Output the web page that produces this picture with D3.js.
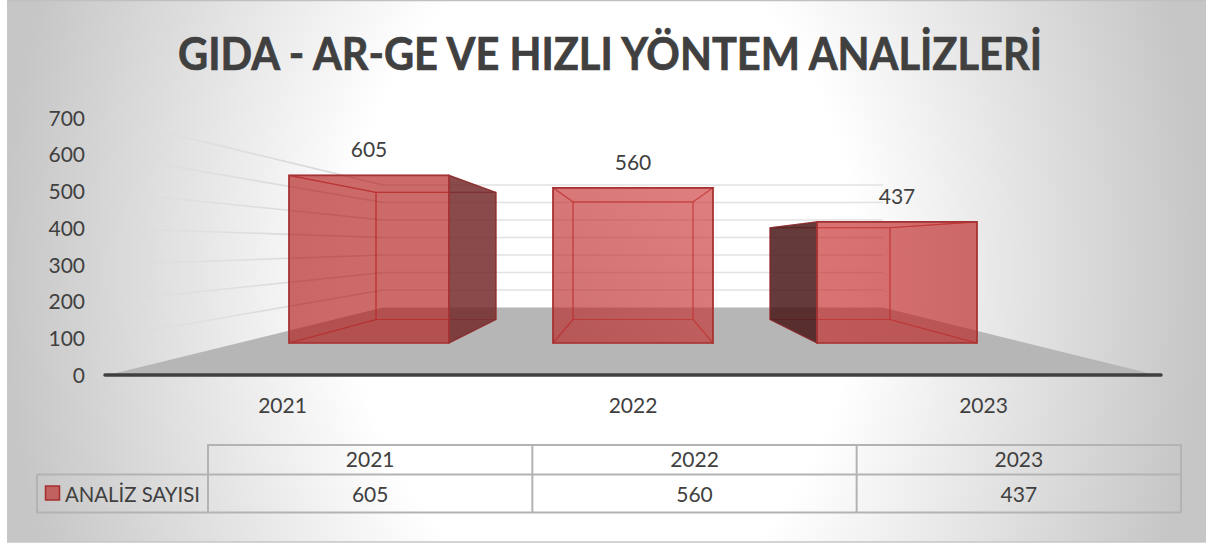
<!DOCTYPE html>
<html>
  <head>
    <meta charset="utf-8" />
    <title>Gida analizleri</title>
    <script src="https://d3js.org/d3.v7.min.js"></script>
    <style>
      html, body { margin: 0; padding: 0; background: #fff; }
      text { font-family: Lato, "Open Sans", sans-serif; fill: #404040; }
    </style>
  </head>
  <body>
    <svg id="viz"></svg>
  <script>
    var categories = ["2021", "2022", "2023"];
    var values = [605, 560, 437];
    var yTicks = [0, 100, 200, 300, 400, 500, 600, 700];
    var seriesName = "ANALİZ SAYISI";
    var titleText = "GIDA - AR-GE VE HIZLI YÖNTEM ANALİZLERİ";

    var svg = d3.select("#viz").attr("width", 1206).attr("height", 544)
      .style("display", "block");
    var defs = svg.append("defs");

    var bg = defs.append("radialGradient").attr("id", "bgGrad")
      .attr("gradientUnits", "userSpaceOnUse")
      .attr("cx", 0).attr("cy", 0).attr("r", 1)
      .attr("gradientTransform", "translate(603,270) scale(600,800)");
    bg.append("stop").attr("offset", "0.42").attr("stop-color", "#ffffff");
    bg.append("stop").attr("offset", "1").attr("stop-color", "#c6c6c6");

    var gridFade = defs.append("linearGradient").attr("id", "gridFade")
      .attr("gradientUnits", "userSpaceOnUse")
      .attr("x1", 105).attr("x2", 300).attr("y1", 0).attr("y2", 0);
    gridFade.append("stop").attr("offset", "0").attr("stop-color", "#d9d9d9").attr("stop-opacity", 0.1);
    gridFade.append("stop").attr("offset", "1").attr("stop-color", "#d9d9d9").attr("stop-opacity", 1);

    // front face tint of each bar, the light falls differently on each one
    var frontTints = [["#b11a1a", "#b11a1a"], ["#b62323", "#ce3a3a"], ["#c52828", "#ba2020"]];
    var sideTints = ["#712727", "#712727", "#461414"];
    frontTints.forEach(function(t, i) {
      var g = defs.append("linearGradient").attr("id", "front" + i)
        .attr("x1", 0).attr("y1", 1).attr("x2", 1).attr("y2", i === 1 ? 0 : 1);
      g.append("stop").attr("offset", "0").attr("stop-color", t[0]);
      g.append("stop").attr("offset", "1").attr("stop-color", t[1]);
    });

    svg.append("rect").attr("x", 7).attr("y", 0).attr("width", 1199).attr("height", 542)
      .attr("fill", "url(#bgGrad)");
    svg.append("line").attr("x1", 7).attr("x2", 1206).attr("y1", 0.5).attr("y2", 0.5)
      .attr("stroke", "#c0c0c0").attr("stroke-width", 1.5);
    svg.append("line").attr("x1", 7).attr("x2", 1206).attr("y1", 542).attr("y2", 542)
      .attr("stroke", "#c6c6c6").attr("stroke-width", 1.5);

    // three y scales: side wall at the axis, back wall, and the bars front/back planes
    var yLeft = d3.scaleLinear().domain([0, 700]).range([375, 118]);
    var yWall = d3.scaleLinear().domain([0, 700]).range([307.5, 185]);
    var yFront = d3.scaleLinear().domain([0, 700]).range([343, 149]);
    var yBack = d3.scaleLinear().domain([0, 700]).range([319.5, 172.5]);

    var xFront = d3.scaleBand().domain(categories).range([289, 977]).paddingInner(0.394);
    var xBack = d3.scaleBand().domain(categories).range([376, 890]).paddingInner(0.391);
    var xLabels = d3.scalePoint().domain(categories).range([282, 983]);
    var xTable = d3.scaleBand().domain(categories).range([208, 1181]);

    var wallLeft = 383, wallRight = 883, axisLeft = 105, axisRight = 1161;

    // title
    svg.append("text").attr("x", 610).attr("y", 70)
      .attr("text-anchor", "middle").attr("font-size", 46).attr("font-weight", 700)
      .attr("textLength", 864).attr("lengthAdjust", "spacingAndGlyphs")
      .style("stroke", "#404040").style("stroke-width", 0.7)
      .text(titleText);

    // floor
    var line = d3.line();
    svg.append("path")
      .attr("d", line([[108, 375], [wallLeft, yWall(0)], [wallRight, yWall(0)], [1156, 375]]) + "Z")
      .attr("fill", "#b6b6b6");

    // gridlines
    var grid = svg.append("g").attr("fill", "none");
    yTicks.filter(function(t) { return t > 0; }).forEach(function(t) {
      grid.append("path")
        .attr("d", line([[axisLeft, yLeft(t)], [wallLeft, yWall(t)]]))
        .attr("stroke", "url(#gridFade)").attr("stroke-width", 1.6);
      grid.append("path")
        .attr("d", line([[wallLeft, yWall(t)], [wallRight, yWall(t)]]))
        .attr("stroke", "#e2e2e2").attr("stroke-width", 1.6);
    });

    // axis base line
    svg.append("line").attr("x1", axisLeft).attr("x2", axisRight)
      .attr("y1", yLeft(0)).attr("y2", yLeft(0))
      .attr("stroke", "#404040").attr("stroke-width", 3.5).attr("stroke-linecap", "round");

    // y axis labels
    var yAxis = d3.axisLeft(yLeft).tickValues(yTicks).tickSize(0).tickPadding(0);
    var yG = svg.append("g").attr("transform", "translate(85,0.5)").call(yAxis);
    yG.select(".domain").remove();
    yG.selectAll("text").attr("font-size", 21);

    // x axis labels
    var xAxis = d3.axisBottom(xLabels).tickSize(0).tickPadding(0);
    var xG = svg.append("g").attr("transform", "translate(0,398)").call(xAxis);
    xG.select(".domain").remove();
    xG.selectAll("text").attr("font-size", 21);

    // bars, each face a polygon between the front and back planes
    var bars = svg.selectAll("g.bar").data(categories).enter().append("g").attr("class", "bar");
    function facePoints(name, i) {
      var c = categories[i], v = values[i];
      var fl = xFront(c), fr = fl + xFront.bandwidth();
      var bl = xBack(c), br = bl + xBack.bandwidth();
      var ft = yFront(v), fb = yFront(0), bt = yBack(v), bb = yBack(0);
      if (name === "back") return [[bl, bt], [br, bt], [br, bb], [bl, bb]];
      if (name === "bottom") return [[fl, fb], [fr, fb], [br, bb], [bl, bb]];
      if (name === "left") return [[fl, ft], [bl, bt], [bl, bb], [fl, fb]];
      if (name === "right") return [[fr, ft], [br, bt], [br, bb], [fr, fb]];
      if (name === "top") return [[fl, ft], [fr, ft], [br, bt], [bl, bt]];
      return [[fl, ft], [fr, ft], [fr, fb], [fl, fb]];
    }
    // a side face is dark only where it sticks out past the front face
    function sticksOut(name, i) {
      var c = categories[i];
      if (name === "left") return xBack(c) < xFront(c);
      if (name === "right") return xBack(c) + xBack.bandwidth() > xFront(c) + xFront.bandwidth();
      return false;
    }
    bars.each(function(c, i) {
      var g = d3.select(this);
      ["back", "bottom", "top", "left", "right"].forEach(function(name) {
        var dark = sticksOut(name, i);
        g.append("path")
          .attr("d", line(facePoints(name, i)) + "Z")
          .attr("fill", dark ? sideTints[i] : "none").attr("fill-opacity", 0.84)
          .attr("stroke", dark ? "#8a2b2b" : "#c04a48").attr("stroke-opacity", dark ? 0.85 : 0.6)
          .attr("stroke-width", 1.2);
      });
      g.append("path")
        .attr("d", line(facePoints("front", i)) + "Z")
        .attr("fill", "url(#front" + i + ")").attr("fill-opacity", 0.65)
        .attr("stroke", "#a63333").attr("stroke-width", 1.7);
    });

    // value labels
    svg.selectAll("text.val").data(values).enter().append("text").attr("class", "val")
      .attr("x", function(d, i) { return xFront(categories[i]) + xFront.bandwidth() / 2; })
      .attr("y", function(d) { return yFront(d) - 18; })
      .attr("text-anchor", "middle").attr("font-size", 21)
      .text(function(d) { return d; });

    // data table
    var table = svg.append("g").attr("fill", "none").attr("stroke", "#b3b3b3").attr("stroke-width", 2);
    var tTop = 445, tMid = 474.5, tBot = 512.5, tLeft = 37, tHead = 208, tRight = 1181;
    table.append("path").attr("d", line([[tHead, tBot], [tHead, tTop], [tRight, tTop], [tRight, tBot]]));
    table.append("path").attr("d", line([[tLeft, tMid], [tRight, tMid]]));
    table.append("path").attr("d", line([[tLeft, tMid], [tLeft, tBot], [tRight, tBot]]));
    categories.slice(1).forEach(function(c) {
      table.append("line").attr("x1", xTable(c)).attr("x2", xTable(c)).attr("y1", tTop).attr("y2", tBot);
    });
    svg.selectAll("text.hd").data(categories).enter().append("text").attr("class", "hd")
      .attr("x", function(d) { return xTable(d) + xTable.bandwidth() / 2; })
      .attr("y", 467).attr("text-anchor", "middle").attr("font-size", 21)
      .text(function(d) { return d; });
    svg.selectAll("text.cell").data(values).enter().append("text").attr("class", "cell")
      .attr("x", function(d, i) { return xTable(categories[i]) + xTable.bandwidth() / 2; })
      .attr("y", 502).attr("text-anchor", "middle").attr("font-size", 21)
      .text(function(d) { return d; });

    // legend key
    svg.append("rect").attr("x", 45.5).attr("y", 486).attr("width", 14).attr("height", 14)
      .attr("fill", "#c0504d").attr("fill-opacity", 0.85).attr("stroke", "#a62f2f").attr("stroke-width", 1.5);
    svg.append("text").attr("x", 65).attr("y", 502).attr("font-size", 21)
      .attr("textLength", 135).attr("lengthAdjust", "spacingAndGlyphs").text(seriesName);
  </script>
  </body>
</html>
